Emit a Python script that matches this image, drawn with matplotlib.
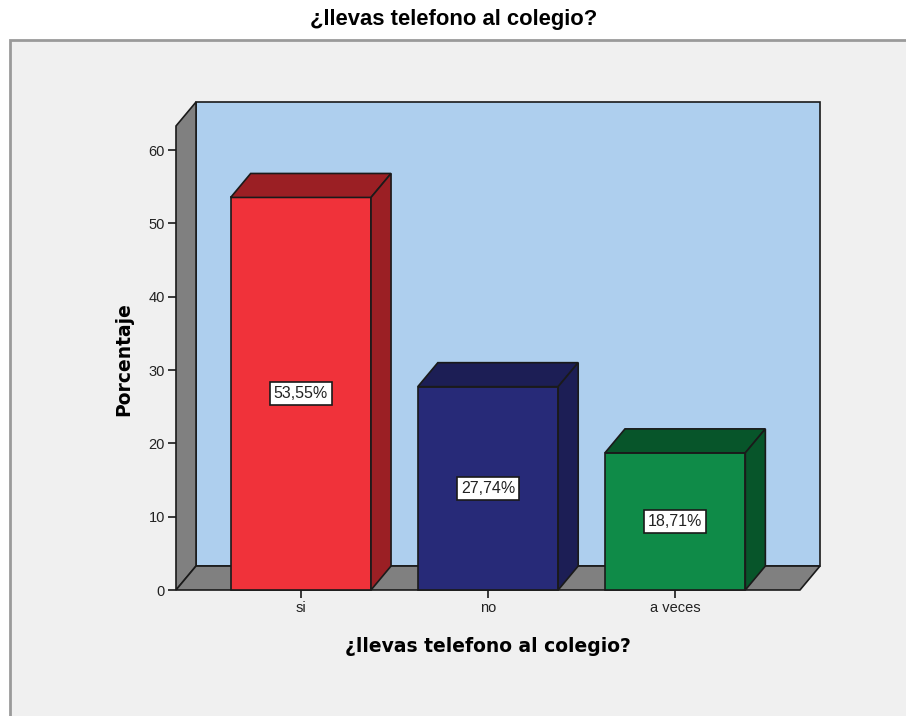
import matplotlib
matplotlib.use("Agg")
import matplotlib.pyplot as plt
from matplotlib.patches import Polygon, Rectangle

plt.rcParams['font.family'] = ['Liberation Sans', 'DejaVu Sans']

# data
categories = ["si", "no", "a veces"]
percentages = [53.55, 27.74, 18.71]
value_labels = ["53,55%", "27,74%", "18,71%"]
y_ticks = [0, 10, 20, 30, 40, 50, 60]

front_colors = ["#f0323a", "#272a78", "#0f8b48"]
dark_colors = ["#9b1f24", "#1c1e55", "#07552a"]

# pseudo-3D geometry (data units)
x0, x1 = -0.667, 2.667
y_top = 63.3
dx, dy = 0.107, 3.27
bar_w = 0.75
edge = "#1a1a1a"

W, H = 906, 716
fig = plt.figure(figsize=(W / 100, H / 100), dpi=100)
fig.patch.set_facecolor("white")

# outer gray frame
fig.patches.append(Rectangle((10 / W, -0.05), 1.0, (716 - 40) / H + 0.05,
                             transform=fig.transFigure, facecolor="#f0f0f0",
                             edgecolor="#9a9a9a", linewidth=2, zorder=-5))

fig.text(454 / W, 1 - 20 / H, "¿llevas telefono al colegio?", ha="center", va="center",
         fontsize=15.8, fontweight="bold")

ax = fig.add_axes([176 / W, (716 - 590) / H, (820 - 176) / W, (590 - 102) / H])
ax.set_zorder(1)
ax.set_xlim(x0, x1 + dx)
ax.set_ylim(0, y_top + dy)
ax.patch.set_alpha(0)
for s in ax.spines.values():
    s.set_visible(False)

# back wall, left wall, floor
ax.add_patch(Polygon([(x0 + dx, dy), (x1 + dx, dy), (x1 + dx, y_top + dy), (x0 + dx, y_top + dy)],
                     closed=True, facecolor="#aecfee", edgecolor=edge, lw=1.2, clip_on=False))
ax.add_patch(Polygon([(x0, 0), (x0, y_top), (x0 + dx, y_top + dy), (x0 + dx, dy)],
                     closed=True, facecolor="#808080", edgecolor=edge, lw=1.2, clip_on=False))
ax.add_patch(Polygon([(x0, 0), (x1, 0), (x1 + dx, dy), (x0 + dx, dy)],
                     closed=True, facecolor="#808080", edgecolor=edge, lw=1.2, clip_on=False))

for i, (v, lab) in enumerate(zip(percentages, value_labels)):
    l, r = i - bar_w / 2, i + bar_w / 2
    ax.add_patch(Polygon([(l, 0), (r, 0), (r, v), (l, v)], closed=True,
                         facecolor=front_colors[i], edgecolor=edge, lw=1.2, clip_on=False))
    ax.add_patch(Polygon([(l, v), (r, v), (r + dx, v + dy), (l + dx, v + dy)], closed=True,
                         facecolor=dark_colors[i], edgecolor=edge, lw=1.2, clip_on=False))
    ax.add_patch(Polygon([(r, 0), (r + dx, dy), (r + dx, v + dy), (r, v)], closed=True,
                         facecolor=dark_colors[i], edgecolor=edge, lw=1.2, clip_on=False))
    ax.text(i, v / 2, lab, ha="center", va="center", fontsize=11.5, color="#222222",
            bbox=dict(boxstyle="square,pad=0.25", facecolor="white", edgecolor=edge, lw=1.2))

ax.set_yticks(y_ticks)
ax.set_yticklabels([str(t) for t in y_ticks], fontsize=10.5, color="#222222")
ax.set_xticks(range(len(categories)))
ax.set_xticklabels(categories, fontsize=10.5, color="#222222")
ax.tick_params(axis="both", length=6, width=1.2, color=edge, pad=2)

ax.set_ylabel("Porcentaje", fontsize=13.5, fontweight="bold", family="DejaVu Sans",
              va="center")
ax.set_xlabel("¿llevas telefono al colegio?", fontsize=13.5, fontweight="bold",
              family="DejaVu Sans", va="center")
ax.xaxis.set_label_coords((488 - 176) / (820 - 176), -(647 - 590) / (590 - 102))
ax.yaxis.set_label_coords(-(176 - 124) / (820 - 176), (590 - 359) / (590 - 102))

fig.savefig("out.png", dpi=100)
